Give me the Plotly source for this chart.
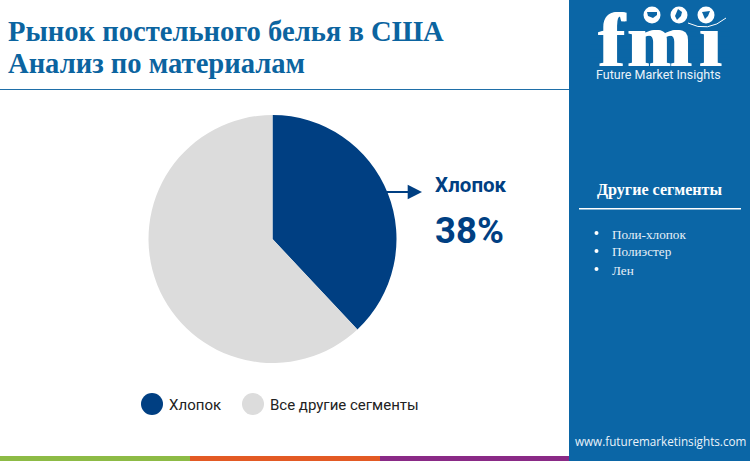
import plotly.graph_objects as go

W, H = 750, 461

# data
segments = ["Хлопок", "Все другие сегменты"]
shares = [38, 62]
colors = ["#003F82", "#DCDCDC"]
other_segments = ["Поли-хлопок", "Полиэстер", "Лен"]
title_lines = ["Рынок постельного белья в США", "Анализ по материалам"]

BLUE = "#0B66A6"
SERIF = "Liberation Serif"
SANS = "Roboto"


def px(x):
    return x / W


def py(y):
    return 1 - y / H


fig = go.Figure()
fig.add_trace(go.Pie(
    labels=segments, values=shares, sort=False, direction="clockwise", rotation=0,
    marker=dict(colors=colors, line=dict(width=0)), textinfo="none", hoverinfo="label+percent",
    domain=dict(x=[px(148.5), px(396.5)], y=[py(363), py(115)]), showlegend=False,
))

shapes = []
annotations = []


def rect(x0, y0, x1, y1, color, layer="below"):
    shapes.append(dict(type="rect", xref="paper", yref="paper", x0=px(x0), x1=px(x1),
                       y0=py(y1), y1=py(y0), fillcolor=color, line=dict(width=0), layer=layer))


def circle(cx, cy, r, color, layer="above"):
    shapes.append(dict(type="circle", xref="paper", yref="paper", x0=px(cx - r), x1=px(cx + r),
                       y0=py(cy + r), y1=py(cy - r), fillcolor=color, line=dict(width=0), layer=layer))


def blob(points, color):
    path = "M " + " L ".join("%f %f" % (px(x), py(y)) for x, y in points) + " Z"
    shapes.append(dict(type="path", xref="paper", yref="paper", path=path, fillcolor=color,
                       line=dict(width=0), layer="above"))


def text(x, y, s, size, color, family=SANS, anchor="left", shadow=None):
    font = dict(size=size, color=color, family=family)
    if shadow:
        font["shadow"] = shadow
    annotations.append(dict(xref="paper", yref="paper", x=px(x), y=py(y), text=s, showarrow=False,
                            xanchor=anchor, yanchor="middle", font=font))


# side panel and bottom strip
rect(569, 0, 750, 461, BLUE)
rect(0, 456, 190, 461, "#8DBB45")
rect(190, 456, 380, 461, "#E35A24")
rect(380, 456, 569, 461, "#8A2A86")
rect(0, 89, 569, 90, "#1F6FA8")

# title
text(6, 31, "<b>%s</b>" % title_lines[0], 28.6, "#0B64A0", SERIF)
text(6, 63, "<b>%s</b>" % title_lines[1], 28.6, "#0B64A0", SERIF)

# callout
annotations.append(dict(xref="paper", yref="paper", x=px(422), y=py(192), ax=-37, ay=0, text="",
                        showarrow=True, arrowhead=2, arrowsize=1.3, arrowwidth=2.2, arrowcolor=colors[0]))
text(433, 185, "<b>%s</b>" % segments[0], 20.5, colors[0])
text(433, 230, "<b>%d%%</b>" % shares[0], 36.5, colors[0])

# legend
circle(152, 404, 11, colors[0])
text(167, 405, segments[0], 15, "#222222")
circle(253, 404, 11, colors[1])
text(268, 405, segments[1], 15, "#222222")

# side panel text
text(659.5, 190, "<b>Другие сегменты</b>", 16.1, "#FFFFFF", SERIF, "center")
rect(579, 208, 741, 209.5, "#FFFFFF")
for y, name in zip([234, 252, 270], other_segments):
    circle(596.5, y - 1, 2, "#FFFFFF")
    text(610, y, name, 13.2, "#E6F0F8", SERIF)

# logo
for x, letter in zip([612, 659, 710], ["f", "m", "ı"]):
    text(x, 39.5, "<b>%s</b>" % letter, 76, "#FFFFFF", SERIF, "center",
         shadow="1.5px 0 0 #FFFFFF, -1.5px 0 0 #FFFFFF")
for y in [30, 36.5, 43, 49.5, 56]:
    rect(590, y, 730, y + 1.6, BLUE, "above")
rect(590, 23.5, 640, 25, BLUE, "above")
for cx in [652, 679, 706]:
    circle(cx, 15, 8.5, "#FFFFFF")
blob([(647, 12), (657, 12), (657, 15), (653, 18), (648, 16)], BLUE)
blob([(678, 9), (682, 12), (681, 16), (677, 20), (675, 16)], BLUE)
blob([(702, 12), (710, 11), (708, 16), (705, 19)], BLUE)
shapes.append(dict(type="path", xref="paper", yref="paper",
                   path="M %f %f Q %f %f %f %f" % (px(688), py(23), px(708), py(33), px(726), py(18)),
                   line=dict(color="#FFFFFF", width=1), layer="above"))
text(658.5, 74, "Future Market Insights", 12.5, "#EAF3FA", SANS, "center")
text(660.5, 441, "www.futuremarketinsights.com", 11.7, "#EAF3FA", "Open Sans", "center")

fig.update_layout(width=W, height=H, margin=dict(l=0, r=0, t=0, b=0), paper_bgcolor="white",
                  shapes=shapes, annotations=annotations)
fig.write_html("out.html", config=dict(displayModeBar=False),
               post_script="document.body.style.margin='0';document.body.style.overflow='hidden';")
